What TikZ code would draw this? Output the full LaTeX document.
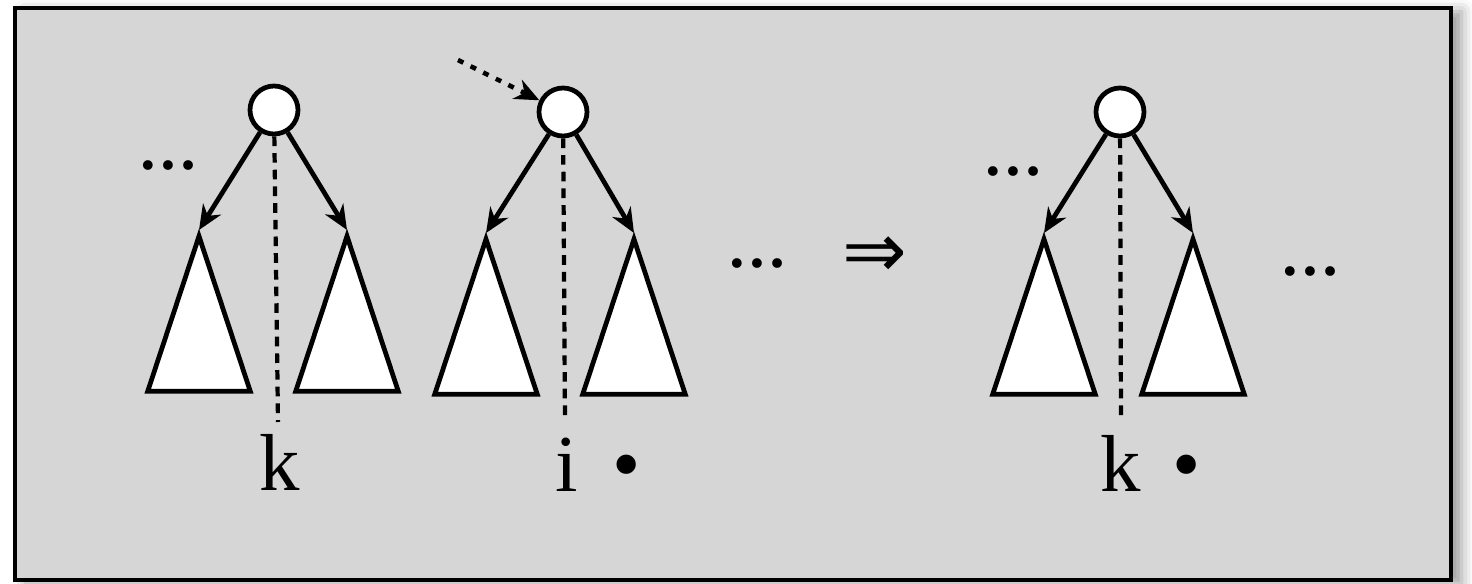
\documentclass[tikz,border=0pt]{standalone}
\usepackage{fontspec}
\setmainfont{Liberation Serif}
\newfontfamily\arrowfont{DejaVu Sans}
\usetikzlibrary{arrows.meta, shapes.geometric, shadows.blur}
\definecolor{PanelGray}{HTML}{D6D6D6}
\newcommand{\BigFont}{\fontsize{46pt}{50pt}\selectfont}
\newcommand{\DotFont}{\fontsize{34pt}{38pt}\selectfont\bfseries}

\begin{document}
\begin{tikzpicture}[x=0.02cm, y=-0.02cm,
  stroke/.style={line width=2.7pt},
  keynode/.style={circle, draw, stroke, fill=white, minimum size=0.96cm, inner sep=0pt},
  subtree/.style={isosceles triangle, shape border rotate=90, isosceles triangle stretches,
    draw, stroke, fill=white, minimum width=2.05cm, minimum height=3.1cm, inner sep=0pt, anchor=apex},
  child/.style={stroke, -{Stealth[length=14pt, width=12pt, inset=4.5pt]}},
  split/.style={line width=2.4pt, dash pattern=on 5.5pt off 4pt},
  pointer/.style={line width=2.6pt, dash pattern=on 3.4pt off 4.6pt, -{Stealth[length=14pt, width=12pt, inset=4.5pt]}},
  keytext/.style={font=\BigFont, anchor=base, inner sep=0pt},
  more/.style={font=\DotFont, inner sep=0pt}]
  \useasboundingbox (0,0) rectangle (1472,584);
  % panel with soft shadow
  \draw[stroke, fill=PanelGray, blur shadow={shadow xshift=6pt, shadow yshift=-2pt, shadow blur radius=7pt}]
    (15,8) rectangle (1451,580);

  % left pair of trees: split at k
  \node[keynode] (r1) at (274,110) {};
  \node[subtree] (t1a) at (199,230) {};
  \node[subtree] (t1b) at (347,230) {};
  \node[keytext] (k1) at (280,490) {k};
  \draw[split] (r1) -- (278,422);
  \draw[child] (r1) -- (t1a.apex);
  \draw[child] (r1) -- (t1b.apex);
  \node[more] (m1) at (168,166) {…};

  \node[keynode] (r2) at (563,112) {};
  \node[subtree] (t2a) at (486,233) {};
  \node[subtree] (t2b) at (634,233) {};
  \node[keytext] (i2) at (567,492) {i};
  \node[keytext] (b2) at (627,492) {•};
  \draw[split] (r2) -- (565,422);
  \draw[child] (r2) -- (t2a.apex);
  \draw[child] (r2) -- (t2b.apex);
  \coordinate (p2) at (458,60);
  \draw[pointer] (p2) -- (r2);

  \node[more] (m2) at (757,264) {…};
  \node[font=\arrowfont\fontsize{44pt}{48pt}\selectfont, inner sep=0pt] (to) at (875,257) {⇒};

  % right tree after the step
  \node[keynode] (r3) at (1120,112) {};
  \node[subtree] (t3a) at (1044,233) {};
  \node[subtree] (t3b) at (1193,233) {};
  \node[keytext] (k3) at (1121,492) {k};
  \node[keytext] (b3) at (1187,492) {•};
  \draw[split] (r3) -- (1121,422);
  \draw[child] (r3) -- (t3a.apex);
  \draw[child] (r3) -- (t3b.apex);
  \node[more] (m3) at (1013,172) {…};
  \node[more] (m4) at (1310,272) {…};
\end{tikzpicture}
\end{document}
